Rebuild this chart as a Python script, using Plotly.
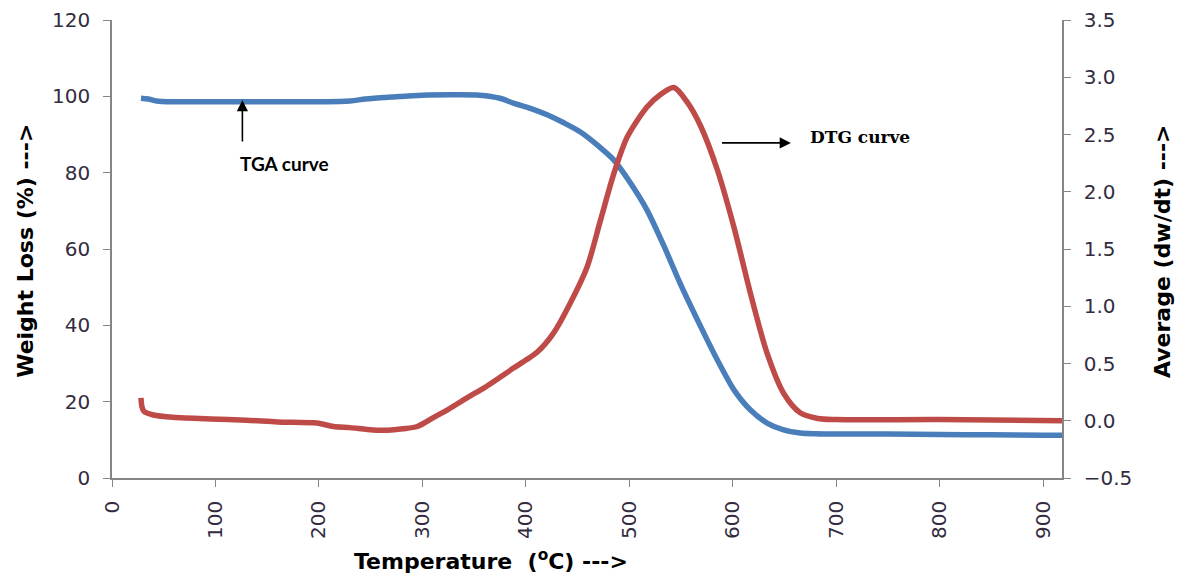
import plotly.graph_objects as go

# TGA curve (left axis, weight %)
tga_temp = [28, 35, 45, 100, 150, 200, 230, 245, 270, 300, 330, 355, 375, 388, 405, 421,
            437, 453, 470, 485, 501, 517, 533, 549, 569, 585, 601, 617, 633, 649, 665, 680,
            700, 750, 800, 850, 900, 918]
tga_weight = [99.5, 99.3, 98.7, 98.6, 98.6, 98.6, 98.8, 99.3, 99.8, 100.3, 100.4, 100.3, 99.5,
              98.2, 96.8, 95.1, 93.0, 90.6, 87.0, 83.3, 77.3, 70.2, 61.0, 51.0, 39.6, 30.9,
              23.1, 17.8, 14.4, 12.6, 11.8, 11.6, 11.5, 11.5, 11.4, 11.3, 11.2, 11.2]

# DTG curve (right axis, dw/dt)
dtg_temp = [28, 29, 31, 40, 59, 95, 130, 160, 198, 214, 230, 252, 270, 281, 295, 311, 325,
            343, 360, 375, 388, 400, 411, 427, 443, 459, 472, 485, 498, 517, 530, 543, 556,
            569, 585, 601, 617, 633, 649, 665, 682, 700, 800, 918]
dtg_rate = [0.2, 0.12, 0.08, 0.05, 0.03, 0.015, 0.005, -0.01, -0.02, -0.05, -0.06, -0.08,
            -0.08, -0.07, -0.05, 0.03, 0.1, 0.2, 0.29, 0.38, 0.46, 0.53, 0.6, 0.77, 1.03,
            1.34, 1.75, 2.16, 2.48, 2.74, 2.85, 2.91, 2.78, 2.57, 2.19, 1.69, 1.11, 0.59,
            0.24, 0.07, 0.02, 0.01, 0.01, 0.0]

x_ticks = [0, 100, 200, 300, 400, 500, 600, 700, 800, 900]
y_ticks = [0, 20, 40, 60, 80, 100, 120]
y2_ticks = [-0.5, 0.0, 0.5, 1.0, 1.5, 2.0, 2.5, 3.0, 3.5]

BLUE = "#4A7EBB"
RED = "#BE4B48"
AXIS = "#868686"
TICKFONT = dict(family="DejaVu Sans", size=20, color="#332c40")
TITLEFONT = dict(family="DejaVu Sans", size=22, color="black", weight="bold")

fig = go.Figure()
fig.add_trace(go.Scatter(x=tga_temp, y=tga_weight, mode="lines", name="TGA",
                         line=dict(color=BLUE, width=5.5, shape="spline", smoothing=0.8)))
fig.add_trace(go.Scatter(x=dtg_temp, y=dtg_rate, mode="lines", name="DTG", yaxis="y2",
                         line=dict(color=RED, width=5.5, shape="spline", smoothing=0.8)))

# arrows and labels
fig.add_annotation(x=126, y=99, ax=126, ay=87.8, xref="x", yref="y", axref="x", ayref="y",
                   showarrow=True, arrowhead=2, arrowsize=1.4, arrowwidth=1.6,
                   arrowcolor="black", text="")
fig.add_annotation(x=167, y=82.5, xref="x", yref="y", text="<b>TGA curve</b>",
                   showarrow=False, font=dict(family="Lato", size=19, color="black"))
fig.add_annotation(x=656, y=87.8, ax=588, ay=87.8, xref="x", yref="y", axref="x", ayref="y",
                   showarrow=True, arrowhead=2, arrowsize=1.4, arrowwidth=1.6,
                   arrowcolor="black", text="")
fig.add_annotation(x=673, y=89.3, xref="x", yref="y", xanchor="left", text="<b>DTG curve</b>",
                   showarrow=False, font=dict(family="DejaVu Serif", size=17, color="black"))

# axis titles
fig.add_annotation(x=(483 - 104) / 950, y=-0.178, xref="paper", yref="paper",
                   xanchor="center", yanchor="middle",
                   text="Temperature  (<sup>o</sup>C) --->", showarrow=False,
                   font=TITLEFONT)
fig.add_annotation(x=-0.091, y=0.495, xref="paper", yref="paper", textangle=-90,
                   xanchor="center", yanchor="middle",
                   text="Weight Loss (%) --->", showarrow=False, font=TITLEFONT)
fig.add_annotation(x=1.106, y=0.495, xref="paper", yref="paper", textangle=-90,
                   xanchor="center", yanchor="middle",
                   text="Average (dw/dt) --->", showarrow=False, font=TITLEFONT)

fig.update_layout(
    width=1170, height=567,
    margin=dict(l=104, r=116, t=12, b=97),
    paper_bgcolor="white", plot_bgcolor="white",
    showlegend=False,
    xaxis=dict(range=[0, 918], tickmode="array", tickvals=x_ticks, tickangle=-90,
               ticks="outside", ticklen=7, tickcolor=AXIS, showline=True, linecolor=AXIS,
               linewidth=1.5, showgrid=False, zeroline=False, tickfont=TICKFONT,
               ticklabelstandoff=6, automargin=False),
    yaxis=dict(range=[0, 120], tickmode="array", tickvals=y_ticks, ticks="outside",
               ticklen=7, tickcolor=AXIS, showline=True, linecolor=AXIS, linewidth=1.5,
               showgrid=False, zeroline=False, tickfont=TICKFONT, ticklabelstandoff=9,
               automargin=False),
    yaxis2=dict(range=[-0.5, 3.5], tickmode="array", tickvals=y2_ticks, tickformat=".1f",
                overlaying="y", side="right", ticks="outside", ticklen=7, tickcolor=AXIS,
                showline=True, linecolor=AXIS, linewidth=1.5, showgrid=False, zeroline=False,
                tickfont=TICKFONT, ticklabelstandoff=9, automargin=False),
)

fig.write_html("out.html")
